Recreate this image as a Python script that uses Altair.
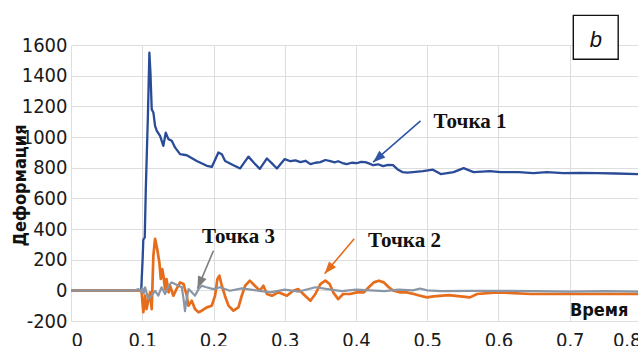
import altair as alt
import pandas as pd

# Deformation readings over time for three measuring points: (time, deformation)
tochka1 = [
    (0.0, 0), (0.05, 0), (0.0985, 0), (0.1005, 200), (0.1015, 330), (0.1035, 345),
    (0.105, 660), (0.108, 1150), (0.110, 1550), (0.1115, 1420), (0.1133, 1180),
    (0.1156, 1160), (0.118, 1072), (0.1204, 1040), (0.125, 1007), (0.1296, 942),
    (0.133, 1029), (0.1367, 986), (0.1414, 975), (0.146, 932), (0.153, 888),
    (0.1625, 881), (0.1765, 844), (0.1906, 812), (0.1976, 805), (0.2069, 899),
    (0.2117, 888), (0.2163, 844), (0.228, 816), (0.2374, 795), (0.249, 872),
    (0.257, 830), (0.265, 792), (0.275, 860), (0.282, 828), (0.289, 795),
    (0.300, 856), (0.308, 842), (0.315, 848), (0.322, 836), (0.329, 845),
    (0.336, 823), (0.343, 832), (0.350, 836), (0.357, 850), (0.364, 842),
    (0.370, 835), (0.375, 842), (0.381, 830), (0.387, 823), (0.394, 832),
    (0.401, 829), (0.407, 838), (0.413, 836), (0.419, 826), (0.424, 816),
    (0.431, 822), (0.438, 810), (0.445, 818), (0.452, 816), (0.458, 790),
    (0.465, 771), (0.472, 768), (0.480, 771), (0.487, 774), (0.494, 777),
    (0.508, 787), (0.519, 758), (0.537, 771), (0.551, 797), (0.565, 771),
    (0.588, 777), (0.603, 771), (0.628, 771), (0.649, 764), (0.668, 771),
    (0.691, 764), (0.715, 766), (0.739, 764), (0.765, 762), (0.80, 758),
]

tochka2 = [
    (0.0, 0), (0.05, 0), (0.097, 0), (0.099, -5), (0.1015, -143), (0.104, -35),
    (0.106, -122), (0.1085, -68), (0.111, -13), (0.1133, -122), (0.1156, 225),
    (0.118, 336), (0.121, 269), (0.124, 182), (0.126, 74), (0.128, 139),
    (0.1297, 95), (0.132, 8), (0.134, 74), (0.137, -13), (0.139, 30),
    (0.1437, -35), (0.148, 8), (0.153, 52), (0.158, 41), (0.1625, -35),
    (0.1648, -100), (0.1695, -68), (0.174, -122), (0.179, -143), (0.1835, -133),
    (0.1906, -111), (0.1976, -100), (0.2022, -35), (0.2055, 74), (0.2083, 95),
    (0.2117, 30), (0.216, -35), (0.221, -100), (0.228, -133), (0.235, -111),
    (0.2397, -35), (0.2444, 30), (0.251, 63), (0.258, 30), (0.265, -3),
    (0.270, 30), (0.275, -24), (0.282, -35), (0.291, -13), (0.303, -35),
    (0.312, -3), (0.319, 8), (0.326, -24), (0.336, -68), (0.343, -24),
    (0.350, 41), (0.357, 63), (0.363, 41), (0.368, -13), (0.375, -57),
    (0.382, -24), (0.392, -24), (0.401, -13), (0.411, -13), (0.418, 20),
    (0.425, 52), (0.432, 63), (0.439, 52), (0.446, 20), (0.453, -3),
    (0.462, -13), (0.471, -13), (0.481, -24), (0.490, -35), (0.4996, -46),
    (0.509, -39), (0.530, -31), (0.560, -46), (0.570, -24), (0.598, -13),
    (0.645, -24), (0.691, -24), (0.739, -24), (0.80, -24),
]

tochka3 = [
    (0.0, 0), (0.05, 0), (0.09, 0), (0.095, 8), (0.098, -10), (0.100, 15),
    (0.102, -20), (0.104, 20), (0.1085, -57), (0.113, -35), (0.118, -3),
    (0.1226, -35), (0.127, 20), (0.132, -24), (0.137, 30), (0.1414, 52),
    (0.146, 41), (0.151, 30), (0.1555, 20), (0.158, -57), (0.160, -135),
    (0.1615, -78), (0.165, 8), (0.1695, -13), (0.174, -35), (0.179, 8),
    (0.1835, 30), (0.19, 20), (0.20, 8), (0.209, 20), (0.223, -3),
    (0.24, 13), (0.26, 0), (0.28, -13), (0.30, 5), (0.32, -8), (0.343, 20),
    (0.36, 8), (0.38, -5), (0.40, 5), (0.42, 0), (0.44, -5), (0.46, 5),
    (0.48, 0), (0.49, 12), (0.50, 0), (0.52, -5), (0.56, -3), (0.60, -3),
    (0.65, -5), (0.70, -9), (0.75, -5), (0.80, -9),
]

series_names = ["Точка 1", "Точка 2", "Точка 3"]
series_colors = ["#2a4b98", "#e56d1b", "#8a96a6"]
series_widths = [2.3, 2.7, 2.2]

x_ticks = [0, 0.1, 0.2, 0.3, 0.4, 0.5, 0.6, 0.7, 0.8]
y_ticks = [-200, 0, 200, 400, 600, 800, 1000, 1200, 1400, 1600]

# Callout labels and their arrows
label_text = ["Точка 1", "Точка 2", "Точка 3"]
label_t = [0.560, 0.468, 0.235]
label_v = [1097, 321, 347]
arrow_t0 = [0.4906, 0.3975, 0.1999]
arrow_v0 = [1105, 336, 258]
arrow_t1 = [0.424, 0.356, 0.1775]
arrow_v1 = [836, 108, 12]
arrow_angle = [229, 220, 203]
arrow_color = ["#2f55a4", "#e56d1b", "#7d7d7d"]

# Panel letter box
panel_letter = ["b"]
box_t = [0.705, 0.768]
box_v = [1507, 1793]
letter_t = [0.7365]
letter_v = [1590]

NARROW = "Liberation Sans Narrow, DejaVu Sans Condensed, sans-serif"
SERIF = "Liberation Serif, Times New Roman, serif"

x_scale = alt.Scale(domain=[0, 0.8], nice=False, zero=False)
y_scale = alt.Scale(domain=[-200, 1600], nice=False, zero=False)

x_axis = alt.Axis(
    values=x_ticks, format="~g", title="Время", titleX=557, titleY=-6,
    titleAlign="right", titleBaseline="alphabetic", labelPadding=9,
)
y_axis = alt.Axis(
    values=y_ticks, labelExpr="'' + datum.value", title="Деформация",
    titleX=-51, titleY=140, titleAngle=270, titleAlign="center",
    titleBaseline="middle", labelPadding=4,
)


def xy(xf, yf):
    return dict(
        x=alt.X(xf, scale=x_scale, axis=x_axis),
        y=alt.Y(yf, scale=y_scale, axis=y_axis),
    )


layers = []
for i, pts in enumerate([tochka1, tochka2, tochka3]):
    df = pd.DataFrame(pts, columns=["t", "v"])
    layers.append(
        alt.Chart(df).mark_line(color=series_colors[i], strokeWidth=series_widths[i],
                                strokeJoin="round").encode(**xy("t:Q", "v:Q"))
    )

arrows = pd.DataFrame({
    "t0": arrow_t0, "v0": arrow_v0, "t1": arrow_t1, "v1": arrow_v1,
    "a": arrow_angle, "c": arrow_color,
})
layers.append(
    alt.Chart(arrows).mark_rule(strokeWidth=1.6).encode(
        **xy("t0:Q", "v0:Q"), x2="t1:Q", y2="v1:Q",
        color=alt.Color("c:N", scale=None),
    )
)
layers.append(
    alt.Chart(arrows).mark_point(
        shape="M0,0 L0.75,2 L-0.75,2 Z", filled=True, size=150, opacity=1,
    ).encode(
        **xy("t1:Q", "v1:Q"),
        angle=alt.Angle("a:Q", scale=None), color=alt.Color("c:N", scale=None),
    )
)

labels = pd.DataFrame({"t": label_t, "v": label_v, "txt": label_text})
layers.append(
    alt.Chart(labels).mark_text(
        font=SERIF, fontSize=21, fontWeight="bold", color="#111111",
        align="center", baseline="middle",
    ).encode(**xy("t:Q", "v:Q"), text="txt:N")
)

box = pd.DataFrame({"t0": [box_t[0]], "t1": [box_t[1]], "v0": [box_v[0]], "v1": [box_v[1]]})
layers.append(
    alt.Chart(box).mark_rect(fill="white", stroke="#111111", strokeWidth=1.4).encode(
        **xy("t0:Q", "v0:Q"), x2="t1:Q", y2="v1:Q",
    )
)
letter = pd.DataFrame({"t": letter_t, "v": letter_v, "txt": panel_letter})
layers.append(
    alt.Chart(letter).mark_text(
        font="Liberation Sans, Arial, sans-serif", fontSize=22, fontStyle="italic",
        color="#111111", align="center", baseline="alphabetic",
    ).encode(**xy("t:Q", "v:Q"), text="txt:N")
)

chart = (
    alt.layer(*layers)
    .properties(
        width=570, height=276, background="white",
        autosize=alt.AutoSizeParams(type="none"),
        padding={"left": 71, "top": 45, "right": -3, "bottom": 25},
    )
    .configure_view(stroke=None)
    .configure_axis(
        grid=True, gridColor="#dedede", gridWidth=1, domain=False, ticks=False,
        labelFont=NARROW, labelFontSize=20, labelColor="#1a1a1a",
        titleFont=NARROW, titleFontSize=18, titleFontWeight="bold", titleColor="#111111",
    )
)

chart.save("out.html", embed_options={"renderer": "svg", "actions": False})
